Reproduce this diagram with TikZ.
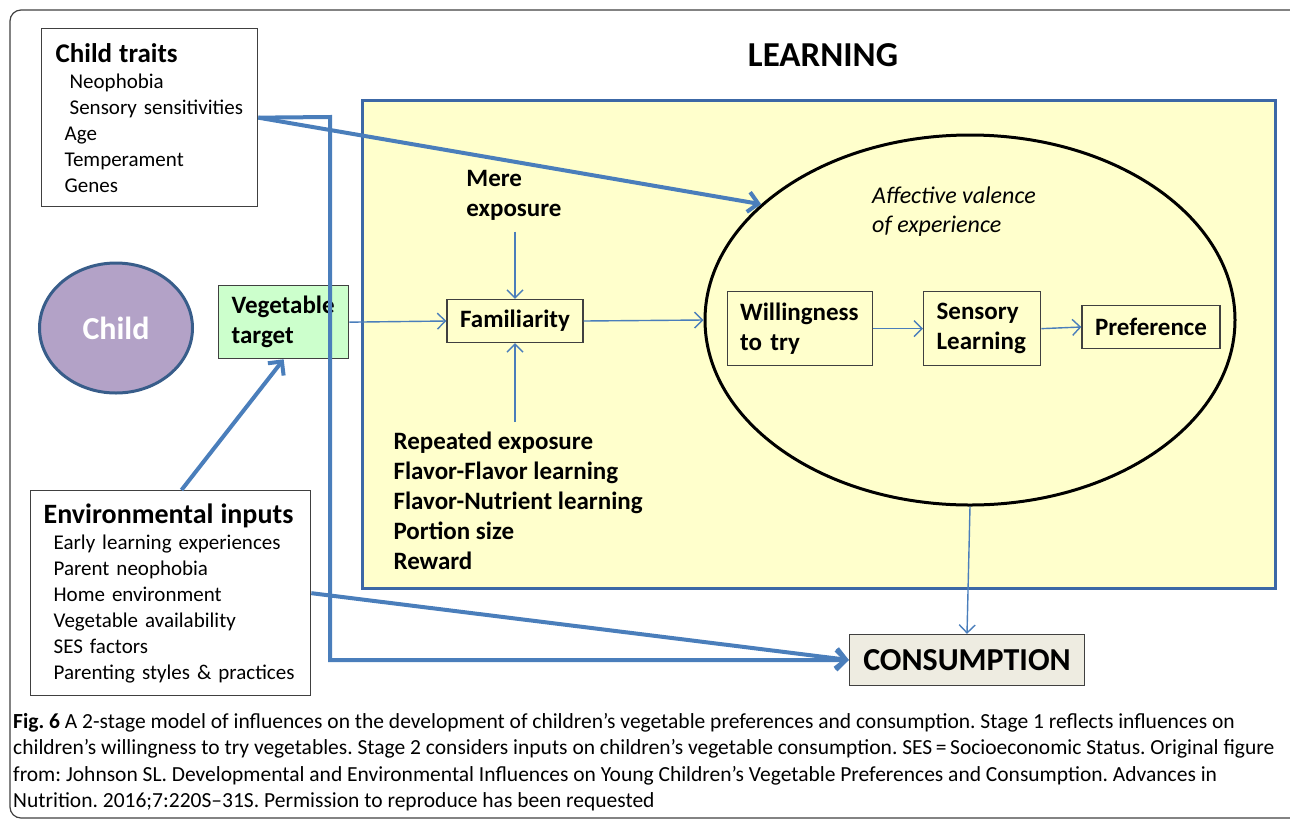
\documentclass[tikz,border=0pt]{standalone}
\usepackage{fontspec}
\setmainfont{Carlito}
\usepackage{xcolor}
\usepackage{tikz}
\usetikzlibrary{arrows.meta,positioning,shapes.geometric}
\frenchspacing

\definecolor{lineblue}{HTML}{4A7EBB}
\definecolor{panelblue}{HTML}{3C68A6}
\definecolor{panelfill}{HTML}{FFFFCC}
\definecolor{vegfill}{HTML}{CCFFCC}
\definecolor{childfill}{HTML}{B3A2C7}
\definecolor{childdraw}{HTML}{385D8A}
\definecolor{consfill}{HTML}{EEECE1}
\definecolor{boxdraw}{HTML}{404040}

\begin{document}
\begin{tikzpicture}[
    x=1pt, y=-1pt,
    box/.style={draw=boxdraw,line width=1.3pt,inner sep=0pt},
    listbox/.style={box,anchor=north west,align=left,inner xsep=13pt,font=\fontsize{21}{26}\selectfont},
    tag/.style={font=\bfseries\fontsize{25}{30}\selectfont,align=left},
    thinarr/.style={-{Straight Barb[length=8pt,width=16pt]},draw=lineblue,line width=1.4pt},
    thickarr/.style={-{Straight Barb[length=10pt,width=20pt]},draw=lineblue,line width=4pt}
]
\clip (0,0) rectangle (1290,820);
\draw[boxdraw,line width=1.2pt,rounded corners=11pt] (10,10) rectangle (1310,818);

\node[draw=panelblue,line width=3pt,fill=panelfill,minimum width=913pt,minimum height=488pt,inner sep=0pt] (panel) at (818.5,344) {};
\node[font=\bfseries\fontsize{35}{40}\selectfont] (learning) at (823,55) {LEARNING};

\node[listbox,inner xsep=14pt,text width=188pt,minimum height=178pt] (traits) at (41,28)
  {{\bfseries\fontsize{27}{28}\selectfont Child traits}\\
   \hspace*{14pt}Neophobia\\
   \hspace*{14pt}Sensory sensitivities\\
   \hspace*{9pt}Age\\
   \hspace*{9pt}Temperament\\
   \hspace*{9pt}Genes};

\node[ellipse,draw=childdraw,line width=3pt,fill=childfill,minimum width=153pt,minimum height=130pt,text=white,font=\bfseries\fontsize{32}{34}\selectfont] (child) at (116,328) {Child};

\node[box,fill=vegfill,anchor=north west,inner xsep=13pt,text width=104pt,minimum height=73pt,tag] (veg) at (218,285) {Vegetable\\target};

\node[listbox,text width=254pt,minimum height=205pt] (env) at (30,490)
  {{\bfseries\fontsize{28}{29}\selectfont Environmental inputs}\\
   \hspace*{10pt}Early learning experiences\\
   \hspace*{10pt}Parent neophobia\\
   \hspace*{10pt}Home environment\\
   \hspace*{10pt}Vegetable availability\\
   \hspace*{10pt}SES factors\\
   \hspace*{10pt}Parenting styles \& practices};

\node[box,minimum width=136pt,minimum height=43pt,tag] (fam) at (515,321) {Familiarity};
\node[tag] (mere) at (514,195) {Mere\\exposure};
\node[tag,anchor=north west] (reps) at (390,428)
  {Repeated exposure\\Flavor-Flavor learning\\Flavor-Nutrient learning\\Portion size\\Reward};

\node[ellipse,draw=black,line width=3pt,minimum width=530pt,minimum height=370pt,inner sep=0pt] (affect) at (970,320) {};
\node[align=left,font=\itshape\fontsize{24}{29}\selectfont] (valence) at (954,212) {Affective valence\\of experience};

\node[box,anchor=north west,inner xsep=12.5pt,text width=120pt,minimum height=74pt,tag] (will) at (727,291) {Willingness\\to try};
\node[box,anchor=north west,inner xsep=13pt,text width=91pt,minimum height=74pt,tag] (sens) at (923,291) {Sensory\\Learning};
\node[box,minimum width=138pt,minimum height=43pt,tag] (pref) at (1151,327) {Preference};

\node[box,fill=consfill,minimum width=235pt,minimum height=51pt,font=\bfseries\fontsize{32}{34}\selectfont] (cons) at (967,660) {CONSUMPTION};

\coordinate (turn) at (330,117);
\draw[thickarr] (traits.east) -- (affect.151);
\draw[thickarr] (traits.east) -- (turn) |- (cons.west);
\draw[thickarr] (env.east) -- (cons.west);
\draw[thickarr] (env.84) -- (veg.south);

\draw[thinarr] (veg.east) -- (fam.west);
\draw[thinarr,shorten <=8pt] (mere.south -| fam.north) -- (fam.north);
\draw[thinarr,shorten <=6pt] (reps.north -| fam.south) -- (fam.south);
\draw[thinarr] (fam.east) -- (affect.west);
\draw[thinarr] (will.east) -- (sens.west);
\draw[thinarr] (sens.east) -- (pref.west);
\draw[thinarr] (affect.south) -- (cons.north);

\node[anchor=north west,align=left,inner sep=0pt,font=\fontsize{21.5}{26.5}\selectfont] (caption) at (13,713)
  {\textbf{Fig. 6} A 2-stage model of influences on the development of children’s vegetable preferences and consumption. Stage 1 reflects influences on\\
   children’s willingness to try vegetables. Stage 2 considers inputs on children’s vegetable consumption. SES\,=\,Socioeconomic Status. Original figure\\
   from: Johnson SL. Developmental and Environmental Influences on Young Children’s Vegetable Preferences and Consumption. Advances in\\
   Nutrition. 2016;7:220S–31S. Permission to reproduce has been requested};
\end{tikzpicture}
\end{document}
